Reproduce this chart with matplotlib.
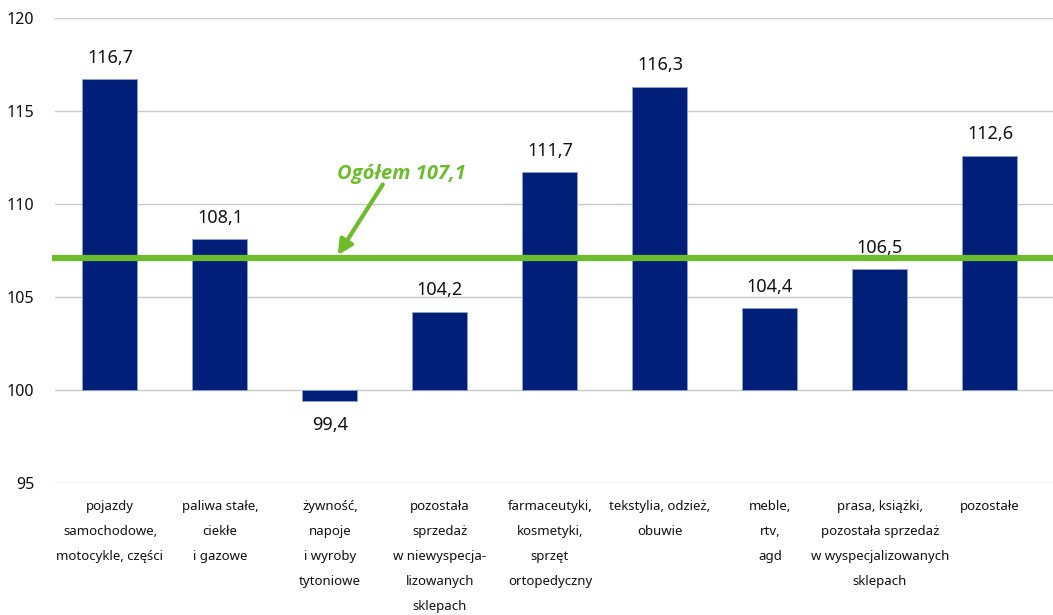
import matplotlib.pyplot as plt
import numpy as np

plt.rcParams["font.family"] = ["Noto Sans", "DejaVu Sans"]

categories = [
    "pojazdy\nsamochodowe,\nmotocykle, części",
    "paliwa stałe,\nciekłe\ni gazowe",
    "żywność,\nnapoje\ni wyroby\ntytoniowe",
    "pozostała\nsprzedaż\nw niewyspecja-\nlizowanych\nsklepach",
    "farmaceutyki,\nkosmetyki,\nsprzęt\nortopedyczny",
    "tekstylia, odzież,\nobuwie",
    "meble,\nrtv,\nagd",
    "prasa, książki,\npozostała sprzedaż\nw wyspecjalizowanych\nsklepach",
    "pozostałe",
]
values = [116.7, 108.1, 99.4, 104.2, 111.7, 116.3, 104.4, 106.5, 112.6]
ogolem = 107.1
base = 100

BAR = "#001F78"
GREEN = "#6CBD2C"

fig = plt.figure(figsize=(10.53, 6.15), dpi=100)
ax = fig.add_axes([55 / 1053, 132 / 615, 998 / 1053, 465 / 615])

x = np.arange(len(values))
heights = [v - base for v in values]
ax.bar(x, heights, width=0.5, bottom=base, color=BAR,
       edgecolor="#8FA0CC", linewidth=0.6, zorder=2)

for xi, v in zip(x, values):
    label = f"{v:.1f}".replace(".", ",")
    if v >= base:
        ax.annotate(label, (xi, v), xytext=(0, 9), textcoords="offset points",
                    ha="center", va="bottom", fontsize=13, color="#111111")
    else:
        ax.annotate(label, (xi, v), xytext=(0, -11), textcoords="offset points",
                    ha="center", va="top", fontsize=13, color="#111111")

# total line and its label
ax.plot([-0.53, 8.6], [ogolem, ogolem], color=GREEN, lw=4.5,
        solid_capstyle="butt", zorder=3, clip_on=False)
ax.text(2.65, ogolem + 4.5, "Ogółem " + f"{ogolem:.1f}".replace(".", ","),
        ha="center", va="center", fontsize=14.5, color=GREEN,
        family=["Open Sans", "DejaVu Sans"],
        fontweight="bold", fontstyle="italic", zorder=4)
ax.annotate("", xy=(2.07, ogolem + 0.15), xytext=(2.48, ogolem + 3.95),
            arrowprops=dict(arrowstyle="-|>", color=GREEN, lw=3,
                            mutation_scale=22, shrinkA=0, shrinkB=0),
            zorder=4)

ax.set_xlim(-0.5, 8.573)
ax.set_ylim(95, 120)
ax.set_yticks(np.arange(95, 121, 5))
ax.yaxis.grid(True, color="#C8C8C8", lw=1)
ax.set_axisbelow(True)
for s in ax.spines.values():
    s.set_visible(False)

ax.set_xticks(x)
ax.set_xticklabels(categories, fontsize=9.5, linespacing=2.2, color="#111111")
ax.tick_params(axis="x", length=0, pad=12)
ax.tick_params(axis="y", length=0, pad=15, labelsize=11.5, labelcolor="#111111")

fig.savefig("out.png", dpi=100)
